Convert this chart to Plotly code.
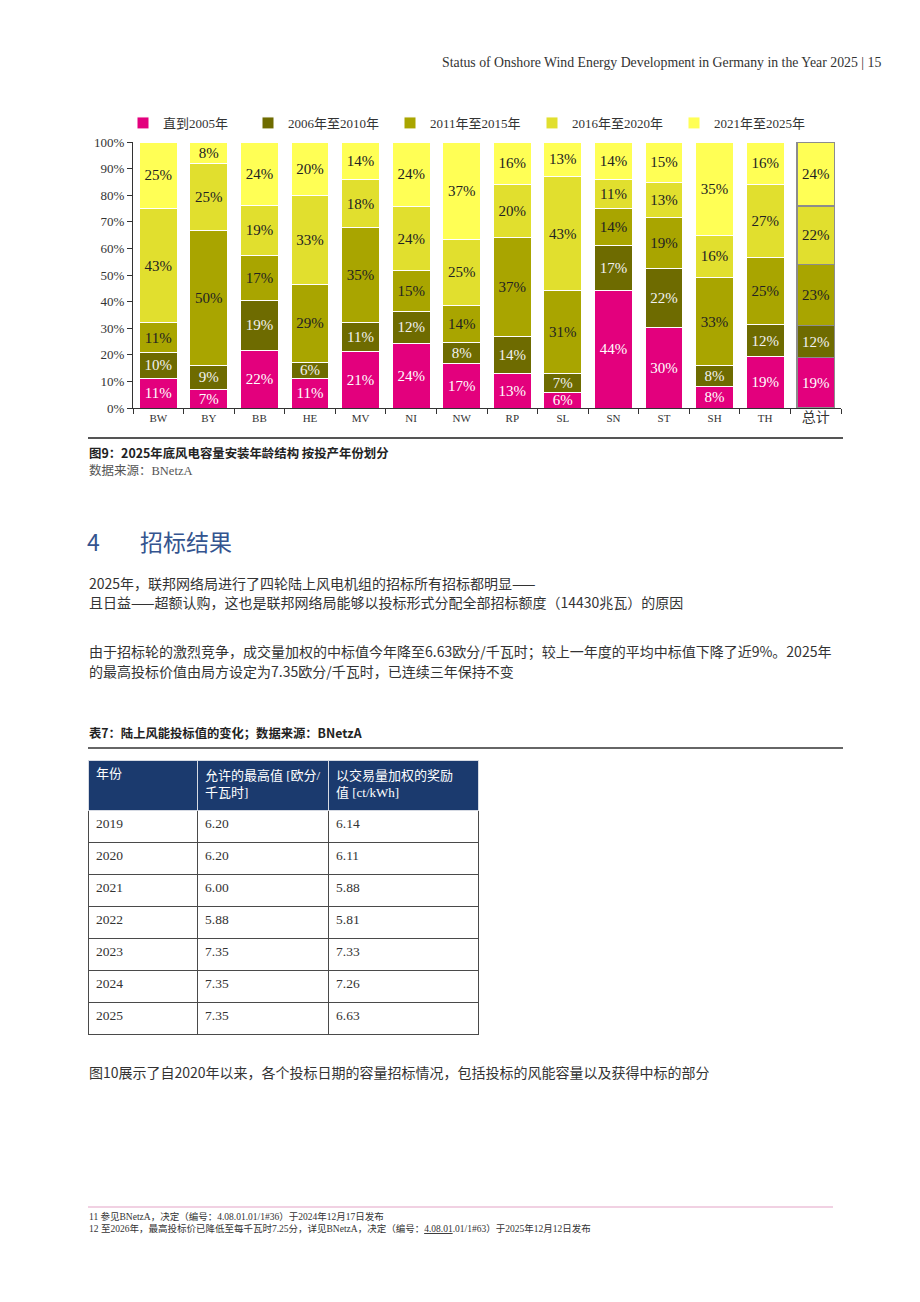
import plotly.graph_objects as go

# ---------------- data ----------------
states = ["BW", "BY", "BB", "HE", "MV", "NI", "NW", "RP", "SL", "SN", "ST", "SH", "TH", "总计"]
until_2005 = [11, 7, 22, 11, 21, 24, 17, 13, 6, 44, 30, 8, 19, 19]
y2006_2010 = [10, 9, 19, 6, 11, 12, 8, 14, 7, 17, 22, 8, 12, 12]
y2011_2015 = [11, 50, 17, 29, 35, 15, 14, 37, 31, 14, 19, 33, 25, 23]
y2016_2020 = [43, 25, 19, 33, 18, 24, 25, 20, 43, 11, 13, 16, 27, 22]
y2021_2025 = [25, 8, 24, 20, 14, 24, 37, 16, 13, 14, 15, 35, 16, 24]
series_names = ["直到2005年", "2006年至2010年", "2011年至2015年", "2016年至2020年", "2021年至2025年"]

table_years = ["2019", "2020", "2021", "2022", "2023", "2024", "2025"]
table_max = ["6.20", "6.20", "6.00", "5.88", "7.35", "7.35", "7.35"]
table_award = ["6.14", "6.11", "5.88", "5.81", "7.33", "7.26", "6.63"]
table_headers = ["年份", "允许的最高值 [欧分/<br>千瓦时]", "以交易量加权的奖励<br>值 [ct/kWh]"]

# ---------------- styles ----------------
W, H = 920, 1302
colors = ["#E3007D", "#6E6B00", "#A9A500", "#E1DF2E", "#FFFF55"]
text_colors = ["#FFFFFF", "#F2F2F2", "#222222", "#222222", "#222222"]
SERIF = "Liberation Serif, Noto Sans CJK SC, serif"
SANS = "Noto Sans CJK SC, sans-serif"


def px(x):
    return x / W


def py(y):
    return 1 - y / H


fig = go.Figure()

series = [until_2005, y2006_2010, y2011_2015, y2016_2020, y2021_2025]
n = len(states)
line_colors = ["#FFFFFF"] * (n - 1) + ["#8C8C8C"]
line_widths = [1] * (n - 1) + [1.5]
for i, (vals, name, col, tcol) in enumerate(zip(series, series_names, colors, text_colors)):
    fig.add_trace(go.Bar(
        x=states, y=vals, name=name,
        legend="legend" if i == 0 else "legend2",
        marker=dict(color=col, line=dict(color=line_colors, width=line_widths)),
        text=vals, texttemplate="%{text}%", textposition="inside",
        insidetextanchor="middle", textangle=0, constraintext="none",
        textfont=dict(family=SERIF, size=15, color=tcol),
        hoverinfo="skip",
    ))

fig.add_trace(go.Table(
    domain=dict(x=[px(88), px(478)], y=[py(1045), py(760)]),
    columnwidth=[109, 131, 150],
    header=dict(
        values=table_headers,
        fill_color="#1B3A6E",
        line=dict(color="#D6DAE3", width=1),
        align="left", height=50,
        font=dict(family=SERIF, size=13, color="#FFFFFF"),
    ),
    cells=dict(
        values=[table_years, table_max, table_award],
        fill_color="#FFFFFF",
        line=dict(color="#4A4A4A", width=1),
        align="left", height=32,
        font=dict(family=SERIF, size=13.5, color="#333333"),
    ),
))

ticktext = [s if s != "总计" else "<span style='font-size:14px'>总计</span>" for s in states]

legend_common = dict(
    orientation="h", y=py(123), xanchor="left", yanchor="middle",
    font=dict(family=SERIF, size=13, color="#333333"),
    traceorder="normal", bgcolor="rgba(0,0,0,0)",
)

fig.update_layout(
    width=W, height=H, autosize=False,
    margin=dict(l=0, r=0, t=0, b=0, autoexpand=False),
    paper_bgcolor="white", plot_bgcolor="white",
    barmode="stack", barnorm="percent", bargap=0.25,
    showlegend=True,
    legend=dict(x=px(123), **legend_common),
    legend2=dict(x=px(248), entrywidth=97, **legend_common),
    xaxis=dict(
        domain=[px(133), px(841)], anchor="y",
        tickmode="array", tickvals=states, ticktext=ticktext,
        tickson="boundaries", ticks="outside", ticklen=5, tickcolor="#333333",
        showline=True, linecolor="#333333", linewidth=1,
        tickfont=dict(family=SERIF, size=11, color="#333333"),
        showgrid=False, fixedrange=True,
    ),
    yaxis=dict(
        domain=[py(408), py(142)], anchor="x",
        range=[0, 100], dtick=10, ticksuffix="%",
        ticks="outside", ticklen=5, tickcolor="#333333",
        showline=True, linecolor="#333333", linewidth=1,
        tickfont=dict(family=SERIF, size=13, color="#333333"),
        showgrid=False, zeroline=False, fixedrange=True,
    ),
)

L = 86.5  # left text edge (annotation padding compensated)
annotations = [
    dict(x=px(883), y=py(62), xanchor="right", yanchor="middle",
         text="Status of Onshore Wind Energy Development in Germany in the Year 2025 | 15",
         font=dict(family=SERIF, size=13.8, color="#333333")),
    dict(x=px(L), y=py(453), xanchor="left", yanchor="middle",
         text="<b>图9：2025年底风电容量安装年龄结构 按投产年份划分</b>",
         font=dict(family=SANS, size=12.4, color="#222222")),
    dict(x=px(L), y=py(470), xanchor="left", yanchor="middle",
         text="数据来源：BNetzA",
         font=dict(family=SERIF, size=12.5, color="#555555")),
    dict(x=px(85), y=py(541), xanchor="left", yanchor="middle",
         text="4", font=dict(family=SANS, size=23, color="#34548F")),
    dict(x=px(138), y=py(541), xanchor="left", yanchor="middle",
         text="招标结果", font=dict(family=SANS, size=23, color="#34548F")),
    dict(x=px(L), y=py(583), xanchor="left", yanchor="middle",
         text="2025年，联邦网络局进行了四轮陆上风电机组的招标所有招标都明显——",
         font=dict(family=SANS, size=14, color="#333333")),
    dict(x=px(L), y=py(602), xanchor="left", yanchor="middle",
         text="且日益——超额认购，这也是联邦网络局能够以投标形式分配全部招标额度（14430兆瓦）的原因",
         font=dict(family=SANS, size=14, color="#333333")),
    dict(x=px(L), y=py(651), xanchor="left", yanchor="middle",
         text="由于招标轮的激烈竞争，成交量加权的中标值今年降至6.63欧分/千瓦时；较上一年度的平均中标值下降了近9%。2025年",
         font=dict(family=SANS, size=14, color="#333333")),
    dict(x=px(L), y=py(671), xanchor="left", yanchor="middle",
         text="的最高投标价值由局方设定为7.35欧分/千瓦时，已连续三年保持不变",
         font=dict(family=SANS, size=14, color="#333333")),
    dict(x=px(L), y=py(733), xanchor="left", yanchor="middle",
         text="<b>表7：陆上风能投标值的变化；数据来源：BNetzA</b>",
         font=dict(family=SANS, size=12.3, color="#222222")),
    dict(x=px(L), y=py(1072), xanchor="left", yanchor="middle",
         text="图10展示了自2020年以来，各个投标日期的容量招标情况，包括投标的风能容量以及获得中标的部分",
         font=dict(family=SANS, size=14, color="#333333")),
    dict(x=px(L), y=py(1216), xanchor="left", yanchor="middle",
         text="11 参见BNetzA，决定（编号：4.08.01.01/1#36）于2024年12月17日发布",
         font=dict(family=SERIF, size=9.5, color="#333333")),
    dict(x=px(L), y=py(1228), xanchor="left", yanchor="middle",
         text="12 至2026年，最高投标价已降低至每千瓦时7.25分，详见BNetzA，决定（编号：<u>4.08.01</u>.01/1#63）于2025年12月12日发布",
         font=dict(family=SERIF, size=9.5, color="#333333")),
]
for a in annotations:
    a.update(xref="paper", yref="paper", showarrow=False)
fig.update_layout(annotations=annotations)

shapes = [
    dict(type="line", xref="paper", yref="paper", x0=px(88), x1=px(843), y0=py(438), y1=py(438),
         line=dict(color="#555555", width=2)),
    dict(type="line", xref="paper", yref="paper", x0=px(88), x1=px(843), y0=py(748), y1=py(748),
         line=dict(color="#333333", width=1.5)),
    dict(type="line", xref="paper", yref="paper", x0=px(88), x1=px(833), y0=py(1207), y1=py(1207),
         line=dict(color="#E3A3C6", width=1)),
]
fig.update_layout(shapes=shapes)

fig.write_html("out.html")
